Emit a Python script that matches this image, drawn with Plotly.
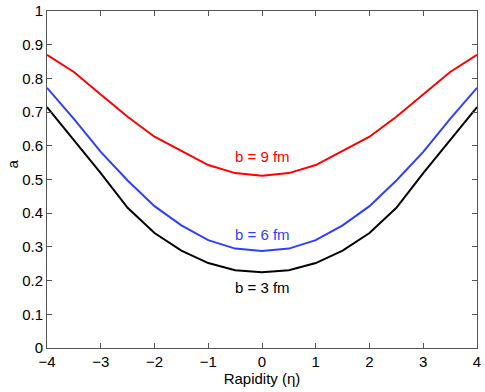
import plotly.graph_objects as go

eta = [-4, -3.5, -3, -2.5, -2, -1.5, -1, -0.5, 0, 0.5, 1, 1.5, 2, 2.5, 3, 3.5, 4]

a_b9 = [0.870, 0.819, 0.752, 0.686, 0.627, 0.585, 0.543, 0.519, 0.511,
        0.519, 0.543, 0.585, 0.627, 0.686, 0.752, 0.819, 0.870]
a_b6 = [0.772, 0.680, 0.582, 0.497, 0.421, 0.364, 0.320, 0.295, 0.288,
        0.295, 0.320, 0.364, 0.421, 0.497, 0.582, 0.680, 0.772]
a_b3 = [0.715, 0.617, 0.519, 0.416, 0.341, 0.289, 0.252, 0.231, 0.225,
        0.231, 0.252, 0.289, 0.341, 0.416, 0.519, 0.617, 0.715]

labels = ["b = 9 fm", "b = 6 fm", "b = 3 fm"]
label_y = [0.567, 0.338, 0.181]
colors = ["#ff0000", "#2f3fff", "#000000"]

fig = go.Figure()
for ys, c in zip([a_b9, a_b6, a_b3], colors):
    fig.add_trace(go.Scatter(x=eta, y=ys, mode="lines", line=dict(color=c, width=2),
                             showlegend=False))

for t, y, c in zip(labels, label_y, colors):
    fig.add_annotation(x=0, y=y, text=t, showarrow=False,
                       font=dict(color=c, size=15))

# y-axis title sits a little above centre in the original
fig.add_annotation(xref="paper", yref="paper", x=-0.081, y=0.545, text="a",
                   xanchor="center", yanchor="middle",
                   textangle=-90, showarrow=False, font=dict(size=15))

ax = dict(showgrid=False, zeroline=False, showline=True, linecolor="#555555",
          linewidth=1, mirror="ticks", ticks="inside", ticklen=5, tickcolor="#555555",
          tickfont=dict(size=15, color="black"), automargin=False)

fig.update_xaxes(range=[-4, 4], dtick=1, title=dict(text="Rapidity (η)", standoff=1,
                 font=dict(size=15)), **ax)
fig.update_yaxes(range=[0, 1], dtick=0.1, **ax)

fig.update_layout(width=485, height=392, plot_bgcolor="white", paper_bgcolor="white",
                  margin=dict(l=47, r=8, t=11, b=44),
                  font=dict(family="Liberation Sans, Arial, sans-serif", color="black"))

# drop the default body margin so the figure sits at the window's corner
fig.write_html("out.html", config={"displayModeBar": False},
               post_script="document.body.style.margin='0';")
